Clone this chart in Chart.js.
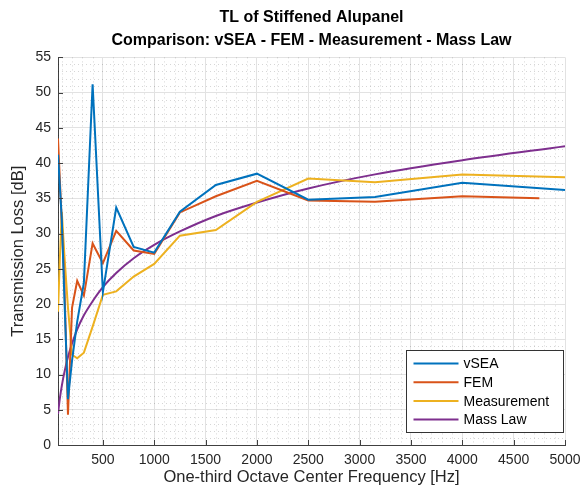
<!DOCTYPE html>
<html>
<head>
<meta charset="utf-8">
<script src="https://cdn.jsdelivr.net/npm/chart.js@4.4.1/dist/chart.umd.min.js"></script>
<style>
  html, body { margin: 0; padding: 0; background: #fff; }
  #wrap { width: 582px; height: 491px; }
</style>
</head>
<body>
<div id="wrap"><canvas id="tl"></canvas></div>
<script>
// one-third octave band centres [Hz]
const freqs = [63, 80, 100, 125, 160, 200, 250, 315, 400, 500, 630, 800, 1000, 1250, 1600, 2000, 2500, 3150, 4000, 5000];
const femFreqs = [63, 80, 100, 125, 160, 200, 250, 315, 400, 500, 630, 800, 1000, 1250, 1600, 2000, 2500, 3150, 4000, 4750];

// transmission loss [dB]
const vsea = [41.2, 37, 32, 21, 6.5, 12, 17.5, 23, 51.2, 21.7, 33.7, 28.1, 27.3, 33.1, 36.9, 38.5, 34.8, 35.2, 37.2, 36.2];
const fem = [43.5, 38, 31.5, 23, 4.3, 19.5, 23.3, 21.2, 28.6, 25.8, 30.4, 27.6, 27.1, 33, 35.3, 37.5, 34.7, 34.5, 35.3, 35.0];
const measurement = [18.9, 26, 33.1, 27, 19.5, 12.8, 12.3, 13.1, 16.8, 21.3, 21.8, 23.9, 25.7, 29.7, 30.5, 34.5, 37.8, 37.3, 38.4, 38.0];
const massLaw = [4.4, 6.5, 8.4, 10.3, 12.5, 14.4, 16.4, 18.4, 20.4, 22.4, 24.4, 26.5, 28.4, 30.3, 32.5, 34.4, 36.4, 38.4, 40.4, 42.4];

const xTicks = [500, 1000, 1500, 2000, 2500, 3000, 3500, 4000, 4500, 5000];
const yTicks = [0, 5, 10, 15, 20, 25, 30, 35, 40, 45, 50, 55];

const FONT = '"Liberation Sans", Arial, Helvetica, sans-serif';
const INK = '#262626';

function pts(xs, ys) {
  return xs.map((f, i) => ({ x: f, y: ys[i] }));
}

function series(label, xs, ys, color, smooth) {
  return {
    label: label,
    data: pts(xs, ys),
    borderColor: color,
    backgroundColor: color,
    borderWidth: 2,
    pointRadius: 0,
    fill: false,
    cubicInterpolationMode: smooth ? 'monotone' : 'default',
    tension: 0
  };
}

// minor grid, inward ticks and the boxed legend (MATLAB look)
const matlabAxes = {
  id: 'matlabAxes',
  beforeDatasetsDraw(chart) {
    const { ctx, chartArea: a, scales: { x, y } } = chart;
    ctx.save();
    ctx.strokeStyle = 'rgba(0,0,0,0.16)';
    ctx.lineWidth = 1;
    ctx.setLineDash([1, 3]);
    ctx.beginPath();
    for (let v = 100; v < x.max; v += 100) {
      if (v % 500 === 0 || v <= x.min) continue;
      const px = Math.round(x.getPixelForValue(v)) + 0.5;
      ctx.moveTo(px, a.top);
      ctx.lineTo(px, a.bottom);
    }
    for (let v = 1; v < y.max; v++) {
      if (v % 5 === 0) continue;
      const py = Math.round(y.getPixelForValue(v)) + 0.5;
      ctx.moveTo(a.left, py);
      ctx.lineTo(a.right, py);
    }
    ctx.stroke();
    ctx.restore();
  },
  afterDraw(chart) {
    const { ctx, chartArea: a, scales: { x, y } } = chart;
    ctx.save();
    ctx.strokeStyle = '#404040';
    ctx.lineWidth = 1;
    ctx.beginPath();
    xTicks.forEach(v => {
      const px = Math.round(x.getPixelForValue(v)) + 0.5;
      ctx.moveTo(px, a.bottom);
      ctx.lineTo(px, a.bottom - 5);
    });
    yTicks.forEach(v => {
      const py = Math.round(y.getPixelForValue(v)) + 0.5;
      ctx.moveTo(a.left, py);
      ctx.lineTo(a.left + 5, py);
    });
    ctx.stroke();

    // legend box
    const bw = 157, bh = 82;
    const bx = Math.round(a.right - bw - 2) + 0.5;
    const by = Math.round(a.bottom - bh - 13) + 0.5;
    ctx.fillStyle = '#fff';
    ctx.fillRect(bx, by, bw, bh);
    ctx.strokeStyle = '#333';
    ctx.strokeRect(bx, by, bw, bh);
    ctx.font = '14px ' + FONT;
    ctx.textBaseline = 'middle';
    chart.data.datasets.forEach((ds, i) => {
      const ly = by + 13 + i * 18.7;
      ctx.strokeStyle = ds.borderColor;
      ctx.lineWidth = 2;
      ctx.beginPath();
      ctx.moveTo(bx + 7, ly);
      ctx.lineTo(bx + 52, ly);
      ctx.stroke();
      ctx.fillStyle = '#000';
      ctx.fillText(ds.label, bx + 57, ly + 1);
    });
    ctx.restore();
  }
};

new Chart(document.getElementById('tl'), {
  type: 'line',
  data: {
    datasets: [
      series('vSEA', freqs, vsea, '#0072BD', false),
      series('FEM', femFreqs, fem, '#D95319', false),
      series('Measurement', freqs, measurement, '#EDB120', false),
      series('Mass Law', freqs, massLaw, '#7E2F8E', true)
    ]
  },
  options: {
    responsive: true,
    maintainAspectRatio: false,
    animation: false,
    devicePixelRatio: 1,
    layout: { padding: { top: 0, right: 17, bottom: 0, left: 0 } },
    plugins: {
      legend: { display: false },
      tooltip: { enabled: false },
      title: {
        display: true,
        fullSize: false,
        text: ['TL of Stiffened Alupanel', 'Comparison: vSEA - FEM - Measurement - Mass Law'],
        color: '#000',
        font: { family: FONT, size: 16, weight: 'bold', lineHeight: 1.45 },
        padding: { top: 6, bottom: 5 }
      }
    },
    scales: {
      x: {
        type: 'linear',
        min: 63,
        max: 5000,
        afterBuildTicks: s => { s.ticks = xTicks.map(v => ({ value: v })); },
        afterFit: s => { s.height = 46; s.paddingLeft = 0; s.paddingRight = 0; },
        grid: { color: '#e2e2e2', drawTicks: false },
        border: { color: '#404040', width: 1 },
        ticks: {
          color: INK, padding: 7, maxRotation: 0, autoSkip: false,
          font: { family: FONT, size: 14 },
          callback: v => String(v)
        },
        title: {
          display: true,
          text: 'One-third Octave Center Frequency [Hz]',
          color: INK,
          font: { family: FONT, size: 16.5 },
          padding: { top: 0, bottom: 4 }
        }
      },
      y: {
        min: 0,
        max: 55,
        afterBuildTicks: s => { s.ticks = yTicks.map(v => ({ value: v })); },
        afterFit: s => { s.width = 58; },
        grid: { color: '#e2e2e2', drawTicks: false },
        border: { color: '#404040', width: 1 },
        ticks: { color: INK, padding: 7, font: { family: FONT, size: 14 }, callback: v => String(v) },
        title: {
          display: true,
          text: 'Transmission Loss [dB]',
          color: INK,
          font: { family: FONT, size: 16.5 },
          padding: { top: 9, bottom: 0 }
        }
      }
    }
  },
  plugins: [matlabAxes]
});
</script>
</body>
</html>
